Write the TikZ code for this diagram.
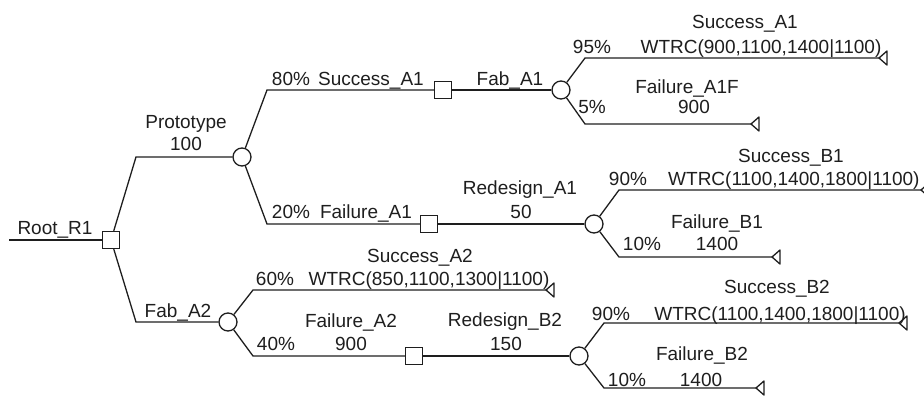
\documentclass[tikz,border=0pt]{standalone}
\usepackage{fontspec}
\setmainfont{Liberation Sans}
\definecolor{ink}{HTML}{1E1E1E}
\begin{document}
\begin{tikzpicture}[x=1pt,y=-1pt,
  every node/.style={font=\fontsize{19}{21}\selectfont, text=ink},
  dec/.style={draw=ink, fill=white, rectangle, minimum size=17pt, inner sep=0pt, line width=1.3pt},
  chn/.style={draw=ink, fill=white, circle, minimum size=18pt, inner sep=0pt, line width=1.3pt},
  lbl/.style={anchor=base, inner sep=0pt},
  branch/.style={draw=ink, line width=1.3pt},
  endtri/.pic={\draw[draw=ink, line width=1.3pt, fill=white, line join=round] (0,0) -- (8,-7) -- (8,7) -- cycle;}]
\useasboundingbox (0,0) rectangle (924,397);

% ---- nodes of the tree ----
\coordinate (start) at (9,240);
\node[dec] (root) at (111,240) {};
\coordinate (rU) at (136,157);
\coordinate (rL) at (136,322);
\node[chn] (proto) at (242,157) {};
\node[chn] (fabA2) at (228,322) {};

\coordinate (pU) at (267,90);
\coordinate (pL) at (267,224);
\node[dec] (sucA1) at (443,90) {};
\node[chn] (fabA1) at (561,90) {};
\node[dec] (failA1) at (429,224) {};
\node[chn] (redA1) at (594,224) {};

\coordinate (fU) at (585,58);
\coordinate (fL) at (585,124);
\coordinate (tA1s) at (879,58);
\coordinate (tA1f) at (751,124);

\coordinate (bU) at (619,190);
\coordinate (bL) at (619,257);
\coordinate (tB1s) at (921,190);
\coordinate (tB1f) at (772,257);

\coordinate (aU) at (253,290);
\coordinate (aL) at (253,356);
\coordinate (tA2s) at (546,290);
\node[dec] (failA2) at (414,356) {};
\node[chn] (redB2) at (579,356) {};

\coordinate (cU) at (604,323);
\coordinate (cL) at (604,388);
\coordinate (tB2s) at (899,323);
\coordinate (tB2f) at (756,388);

% ---- branches ----
\draw[branch] (start) -- (root);
\draw[branch] (root) -- (rU) -- (proto);
\draw[branch] (root) -- (rL) -- (fabA2);
\draw[branch] (proto) -- (pU) -- (sucA1);
\draw[branch] (sucA1) -- (fabA1);
\draw[branch] (fabA1) -- (fU) -- (tA1s);
\draw[branch] (fabA1) -- (fL) -- (tA1f);
\draw[branch] (proto) -- (pL) -- (failA1);
\draw[branch] (failA1) -- (redA1);
\draw[branch] (redA1) -- (bU) -- (tB1s);
\draw[branch] (redA1) -- (bL) -- (tB1f);
\draw[branch] (fabA2) -- (aU) -- (tA2s);
\draw[branch] (fabA2) -- (aL) -- (failA2);
\draw[branch] (failA2) -- (redB2);
\draw[branch] (redB2) -- (cU) -- (tB2s);
\draw[branch] (redB2) -- (cL) -- (tB2f);

% ---- terminal markers ----
\pic at (tA1s) {endtri};
\pic at (tA1f) {endtri};
\pic at (tB1s) {endtri};
\pic at (tB1f) {endtri};
\pic at (tA2s) {endtri};
\pic at (tB2s) {endtri};
\pic at (tB2f) {endtri};

% ---- labels ----
\node[lbl] (lRoot) at (55,234) {Root\_R1};
\node[lbl] (lProto) at (186,128) {Prototype};
\node[lbl] (lProtoV) at (186,150) {100};
\node[lbl] (lFabA2) at (178,317) {Fab\_A2};

\node[lbl] (p80) at (291,85) {80\%};
\node[lbl] (lSucA1) at (371,85) {Success\_A1};
\node[lbl] (lFabA1) at (510,85) {Fab\_A1};

\node[lbl] (lSucA1t) at (745,28) {Success\_A1};
\node[lbl] (p95) at (592,53) {95\%};
\node[lbl] (vSucA1t) at (761,53) {WTRC(900,1100,1400|1100)};
\node[lbl] (lFailA1F) at (687,93) {Failure\_A1F};
\node[lbl] (p5) at (592,113) {5\%};
\node[lbl] (vFailA1F) at (694,113) {900};

\node[lbl] (p20) at (291,218) {20\%};
\node[lbl] (lFailA1) at (366,218) {Failure\_A1};
\node[lbl] (lRedA1) at (520,194) {Redesign\_A1};
\node[lbl] (vRedA1) at (521,218) {50};

\node[lbl] (lSucB1) at (791,162) {Success\_B1};
\node[lbl] (p90a) at (628,185) {90\%};
\node[lbl, anchor=base west] (vSucB1) at (668,185) {WTRC(1100,1400,1800|1100)};
\node[lbl] (lFailB1) at (717,228) {Failure\_B1};
\node[lbl] (p10a) at (642,250) {10\%};
\node[lbl] (vFailB1) at (717,250) {1400};

\node[lbl] (lSucA2) at (420,262) {Success\_A2};
\node[lbl] (p60) at (275,285) {60\%};
\node[lbl] (vSucA2) at (429,285) {WTRC(850,1100,1300|1100)};
\node[lbl] (lFailA2) at (351,327) {Failure\_A2};
\node[lbl] (vFailA2) at (351,350) {900};
\node[lbl] (p40) at (276,350) {40\%};
\node[lbl] (lRedB2) at (505,326) {Redesign\_B2};
\node[lbl] (vRedB2) at (506,350) {150};

\node[lbl] (lSucB2) at (777,293) {Success\_B2};
\node[lbl] (p90b) at (611,320) {90\%};
\node[lbl] (vSucB2) at (780,320) {WTRC(1100,1400,1800|1100)};
\node[lbl] (lFailB2) at (702,360) {Failure\_B2};
\node[lbl] (p10b) at (627,386) {10\%};
\node[lbl] (vFailB2) at (701,386) {1400};
\end{tikzpicture}
\end{document}
